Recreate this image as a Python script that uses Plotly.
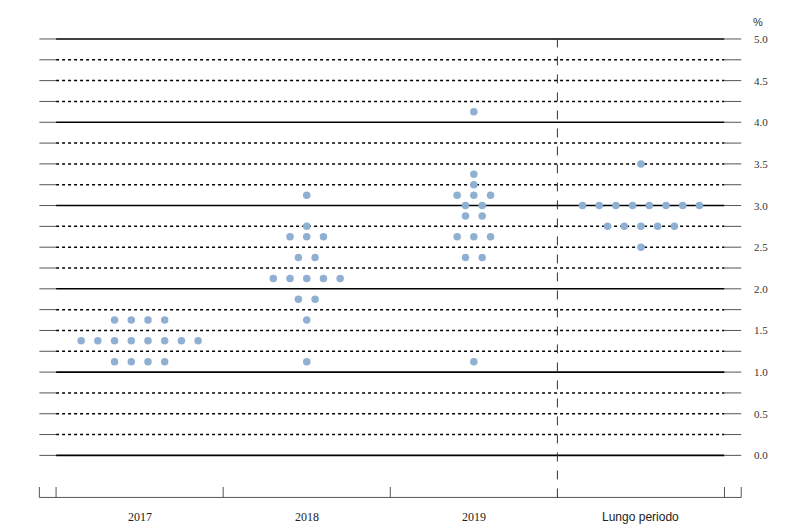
import plotly.graph_objects as go

# dot plot: per category, rate level -> number of participants
categories = ["2017", "2018", "2019", "Lungo periodo"]
levels_2017 = [1.125, 1.375, 1.625]
counts_2017 = [4, 8, 4]
levels_2018 = [1.125, 1.625, 1.875, 2.125, 2.375, 2.625, 2.75, 3.125]
counts_2018 = [1, 1, 2, 5, 2, 3, 1, 1]
levels_2019 = [1.125, 2.375, 2.625, 2.875, 3.0, 3.125, 3.25, 3.375, 4.125]
counts_2019 = [1, 2, 3, 2, 2, 3, 1, 1, 1]
levels_lungo = [2.5, 2.75, 3.0, 3.5]
counts_lungo = [1, 5, 8, 1]
y_ticks = [0.0, 0.5, 1.0, 1.5, 2.0, 2.5, 3.0, 3.5, 4.0, 4.5, 5.0]

series = [(levels_2017, counts_2017), (levels_2018, counts_2018),
          (levels_2019, counts_2019), (levels_lungo, counts_lungo)]

xs, ys = [], []
for i, (lv, cn) in enumerate(series):
    for level, n in zip(lv, cn):
        for k in range(n):
            xs.append(i + (k - (n - 1) / 2) * 0.1)
            ys.append(level)

fig = go.Figure()
fig.add_trace(go.Scatter(x=xs, y=ys, mode="markers",
                         marker=dict(size=7.5, color="#8fb0d3"),
                         showlegend=False, hoverinfo="y"))

shapes = []
for j in range(21):
    y = j * 0.25
    major = j % 4 == 0
    shapes.append(dict(type="line", x0=-0.5, x1=3.5, y0=y, y1=y, layer="below",
                       line=dict(color="black", width=1.6 if major else 1.5,
                                 dash="solid" if major else "dot")))
    for a, b in [(-0.6, -0.5), (3.5, 3.6)]:
        shapes.append(dict(type="line", x0=a, x1=b, y0=y, y1=y, layer="below",
                           line=dict(color="#555", width=1)))
# bottom axis
shapes.append(dict(type="line", x0=-0.6, x1=3.6, y0=-0.505, y1=-0.505,
                   line=dict(color="#555", width=1)))
for x in [-0.6, -0.5, 0.5, 1.5, 3.5, 3.6]:
    shapes.append(dict(type="line", x0=x, x1=x, y0=-0.505, y1=-0.38,
                       line=dict(color="#555", width=1)))
shapes.append(dict(type="line", x0=2.5, x1=2.5, y0=-0.505, y1=5.0,
                   line=dict(color="#333", width=1, dash="dash")))

ann = []
for t in y_ticks:
    ann.append(dict(x=3.72, y=t, xref="x", yref="y", text=f"{t:.1f}",
                    showarrow=False, font=dict(family="Liberation Serif", size=11, color="#333")))
ann.append(dict(x=3.7, y=5.2, xref="x", yref="y", text="%", showarrow=False,
                font=dict(family="Liberation Sans", size=11, color="#333")))
for i, c in enumerate(categories):
    ann.append(dict(x=i, y=-0.74, xref="x", yref="y", text=c, showarrow=False,
                    font=dict(family="Liberation Serif" if i < 3 else "Liberation Sans",
                              size=12, color="#222")))

fig.update_layout(
    width=790, height=530, margin=dict(l=23, r=15, t=6, b=16),
    plot_bgcolor="white", paper_bgcolor="white",
    xaxis=dict(range=[-0.65, 3.85], visible=False),
    yaxis=dict(range=[-0.8, 5.3], visible=False),
    shapes=shapes, annotations=ann,
)
fig.write_html("out.html")
